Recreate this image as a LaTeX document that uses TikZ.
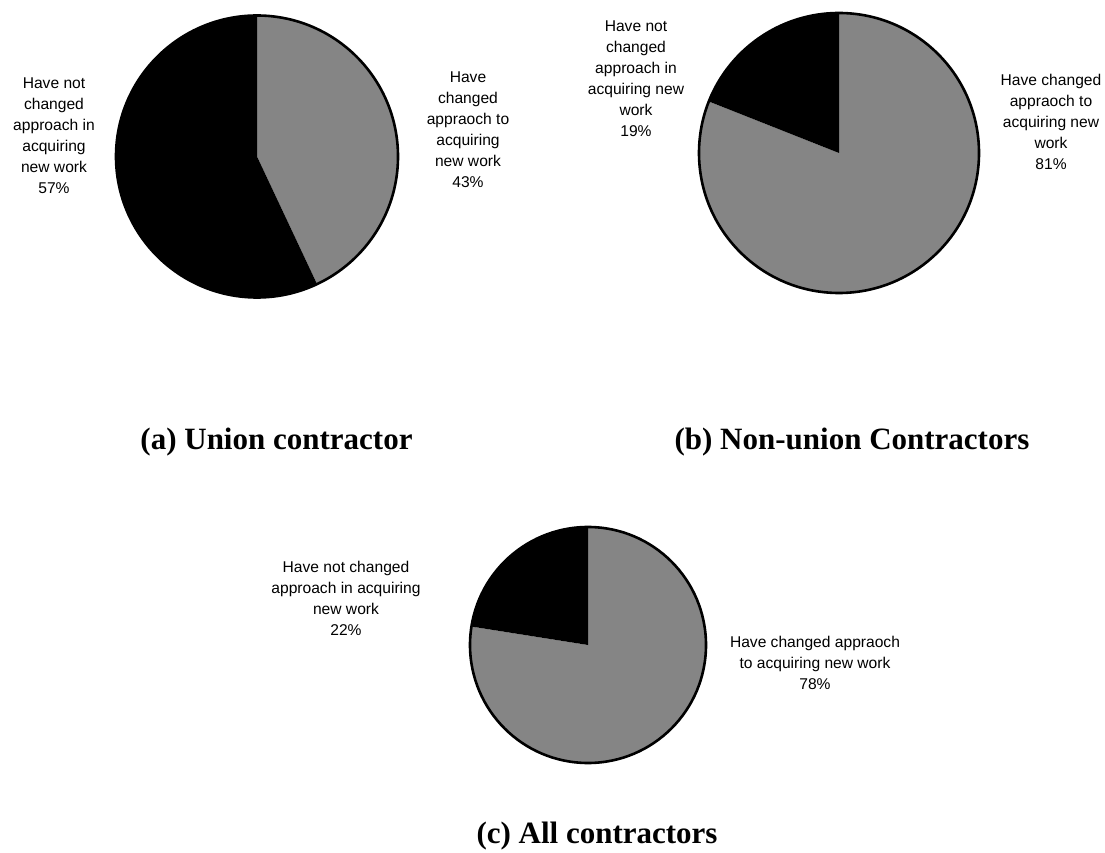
\documentclass[tikz,border=0pt]{standalone}
\usepackage{fontspec}
\setmainfont{Liberation Serif}
\setsansfont{Liberation Sans}
\begin{document}
\begin{tikzpicture}[x=1pt,y=1pt,
  lbl/.style={font=\sffamily\fontsize{15.6}{21}\selectfont, align=center, inner sep=0pt},
  ttl/.style={font=\rmfamily\bfseries\fontsize{31}{36}\selectfont, anchor=base, inner sep=0pt},
  darkpart/.style={fill=black},
  greypart/.style={fill=black!48},
  rim/.style={draw=black, line width=2.6pt}]
\useasboundingbox (0,0) rectangle (1105,852);
% ---------- (a) Union contractor ----------
\coordinate (ca) at (257,695.5);
\fill[greypart] (ca) -- ++(-64.8:141) arc[start angle=-64.8, end angle=90, radius=141] -- cycle;
\fill[darkpart] (ca) -- ++(90:141) arc[start angle=90, end angle=295.2, radius=141] -- cycle;
\draw[rim] (ca) circle[radius=141];
\node[lbl] (aL) at (54,716.5) {Have not\\changed\\approach in\\acquiring\\new work\\57\%};
\node[lbl] (aR) at (468,722) {Have\\changed\\appraoch to\\acquiring\\new work\\43\%};
\node[ttl] (aT) at (276.5,402) {(a) Union contractor};
% ---------- (b) Non-union Contractors ----------
\coordinate (cb) at (839,699);
\fill[greypart] (cb) -- ++(158.4:140) arc[start angle=158.4, end angle=450, radius=140] -- cycle;
\fill[darkpart] (cb) -- ++(90:140) arc[start angle=90, end angle=158.4, radius=140] -- cycle;
\draw[rim] (cb) circle[radius=140];
\node[lbl] (bL) at (636,773.5) {Have not\\changed\\approach in\\acquiring new\\work\\19\%};
\node[lbl] (bR) at (1051,730.5) {Have changed\\appraoch to\\acquiring new\\work\\81\%};
\node[ttl] (bT) at (852,402) {(b) Non-union Contractors};
% ---------- (c) All contractors ----------
\coordinate (cc) at (588,207);
\fill[greypart] (cc) -- ++(171:118) arc[start angle=171, end angle=450, radius=118] -- cycle;
\fill[darkpart] (cc) -- ++(90:118) arc[start angle=90, end angle=171, radius=118] -- cycle;
\draw[rim] (cc) circle[radius=118];
\node[lbl] (cL) at (346,253.5) {Have not changed\\approach in acquiring\\new work\\22\%};
\node[lbl] (cR) at (815,189.5) {Have changed appraoch\\to acquiring new work\\78\%};
\node[ttl] (cT) at (597,9) {(c) All contractors};
\end{tikzpicture}
\end{document}
